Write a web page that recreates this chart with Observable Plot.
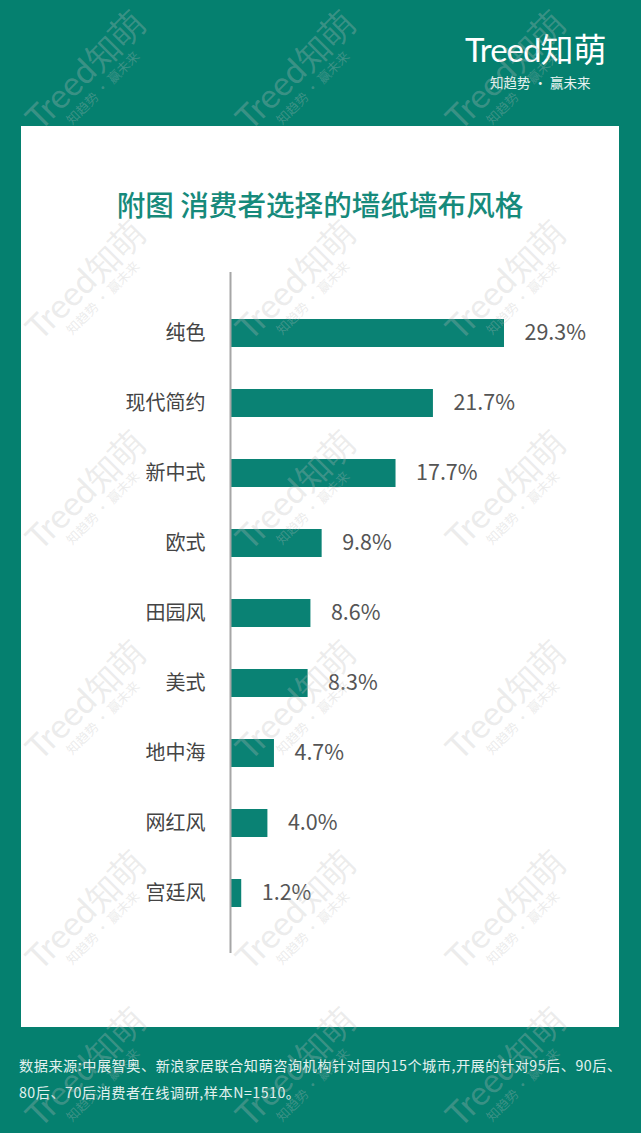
<!DOCTYPE html>
<html><head><meta charset="utf-8">
<script src="https://cdn.jsdelivr.net/npm/d3@7"></script>
<script src="https://cdn.jsdelivr.net/npm/@observablehq/plot@0.6"></script>
<style>
html,body{margin:0;padding:0;}
body{width:641px;height:1133px;background:#05806f;position:relative;overflow:hidden;font-family:"Noto Sans CJK SC","Noto Sans",sans-serif;}
#panel{position:absolute;left:21px;top:126px;width:598px;height:901px;background:#fff;}
#title{position:absolute;left:0;width:100%;top:64px;text-align:center;font-size:28.6px;line-height:28px;color:#168a7b;font-weight:500;}
#chart{position:absolute;left:0;top:124px;}
#logo{position:absolute;left:465px;top:29px;color:#fff;font-size:33px;line-height:38px;white-space:nowrap;font-family:"Noto Sans CJK SC",sans-serif;}
#logo .t{font-family:"Lato","Noto Sans",sans-serif;font-weight:400;letter-spacing:-1px;}
#sub{position:absolute;left:490px;top:73px;color:#e6f3f1;font-size:13.5px;line-height:18px;white-space:nowrap;}
#footer{position:absolute;left:19px;top:1052px;color:#e3f1ef;font-size:14.2px;line-height:27px;letter-spacing:0.5px;white-space:nowrap;}
.wm{position:absolute;transform:translate(-50%,-50%) rotate(-45deg);color:rgba(190,190,190,0.3);text-align:center;white-space:nowrap;pointer-events:none;}
.wm .a{font-size:34px;line-height:36px;font-family:"Lato",sans-serif;}
.wm .b{font-size:13px;line-height:16px;}
</style></head>
<body>
<div id="panel">
  <div id="title">附图 消费者选择的墙纸墙布风格</div>
  <div id="chart"></div>
</div>
<div id="logo"><span class="t">Treed</span>知萌</div>
<div id="sub">知趋势 · 赢未来</div>
<div id="footer">数据来源:中展智奥、新浪家居联合知萌咨询机构针对国内15个城市,开展的针对95后、90后、<br>80后、70后消费者在线调研,样本N=1510。</div>
<script>
const categories = ["纯色","现代简约","新中式","欧式","田园风","美式","地中海","网红风","宫廷风"];
const values = [29.3,21.7,17.7,9.8,8.6,8.3,4.7,4.0,1.2];
const data = categories.map((c,i)=>({style:c,value:values[i]}));

const chart = Plot.plot({
  width:598, height:723,
  marginLeft:209, marginRight:115, marginTop:22, marginBottom:20,
  style:{fontFamily:'"Noto Sans CJK SC","Noto Sans",sans-serif', background:"transparent", overflow:"visible"},
  x:{domain:[0,29.3], axis:null},
  y:{domain:categories, paddingInner:0.6, paddingOuter:0.664, axis:null},
  marks:[
    Plot.barX(data,{x:"value", y:"style", fill:"#0a8274"}),
    Plot.ruleX([0],{stroke:"#a6a6a6", strokeWidth:2}),
    Plot.axisY({tickSize:0, tickPadding:25, fontSize:20, label:null, color:"#444"}),
    Plot.text(data,{x:"value", y:"style", text:d=>d.value.toFixed(1)+"%", textAnchor:"start", dx:20, fontSize:21.5, fill:"#555"})
  ]
});
document.getElementById("chart").appendChild(chart);

// watermark decoration
const wx=[90,300,510], wy=[75,285,495,705,915,1072];
for(const y of wy) for(const x of wx){
  const d=document.createElement("div");
  d.className="wm"; d.style.left=x+"px"; d.style.top=y+"px";
  d.innerHTML='<div class="a">Treed知萌</div><div class="b">知趋势 · 赢未来</div>';
  document.body.appendChild(d);
}
</script>
</body></html>
